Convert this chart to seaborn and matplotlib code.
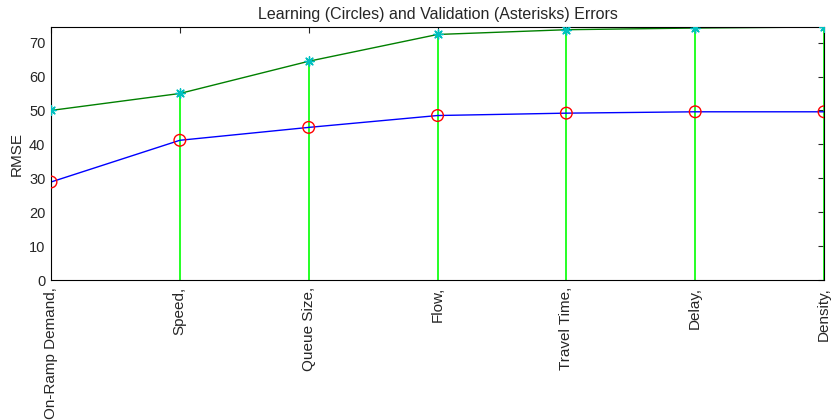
import matplotlib
matplotlib.use("Agg")
import matplotlib.pyplot as plt
import numpy as np
import pandas as pd
import seaborn as sns

# feature sets added step by step
features = ["On-Ramp Demand,", "Speed,", "Queue Size,", "Flow,", "Travel Time,", "Delay,", "Density,"]
learning_rmse = [28.9, 41.2, 45.0, 48.5, 49.2, 49.6, 49.6]
validation_rmse = [50.0, 55.0, 64.5, 72.4, 73.8, 74.3, 74.6]

sns.set_style("white")
plt.rcParams["font.family"] = ["Liberation Sans", "DejaVu Sans"]

df = pd.DataFrame({
    "step": np.arange(len(features)),
    "learning": learning_rmse,
    "validation": validation_rmse,
})

fig = plt.figure(figsize=(8.31, 4.20), dpi=100)
ax = fig.add_axes([0.0614, 0.3333, 0.9302, 0.6024])

# stems from zero up to validation error
ax.vlines(df["step"], 0, df["validation"], color="#00ff00", linewidth=1.2, zorder=1)

sns.lineplot(data=df, x="step", y="learning", ax=ax, color="#0000ff", linewidth=1.0, zorder=2)
sns.lineplot(data=df, x="step", y="validation", ax=ax, color="#008000", linewidth=1.0, zorder=2)

ax.scatter(df["step"], df["learning"], marker="o", s=70, facecolors="none",
           edgecolors="#ff0000", linewidths=1.0, zorder=3)
ax.scatter(df["step"], df["validation"], marker=(8, 2, 0), s=45,
           color="#00c0c0", linewidths=1.0, zorder=3)

ax.set_xlim(0, len(features) - 1)
ax.set_ylim(0, max(validation_rmse))
ax.set_yticks(np.arange(0, 71, 10))
ax.set_xticks(df["step"])
ax.set_xticklabels(features, rotation=90, va="top", ha="center", fontsize=11)
ax.tick_params(axis="y", labelsize=10.5, pad=4)
ax.tick_params(axis="x", pad=5)
ax.tick_params(direction="in", top=True, right=True, length=4, width=0.8)
for s in ax.spines.values():
    s.set_color("black")
    s.set_linewidth(0.8)

ax.set_xlabel("")
ax.set_ylabel("RMSE", fontsize=11, labelpad=4)
ax.set_title("Learning (Circles) and Validation (Asterisks) Errors", fontsize=11.5, pad=6)

fig.savefig("out.png", dpi=100)
